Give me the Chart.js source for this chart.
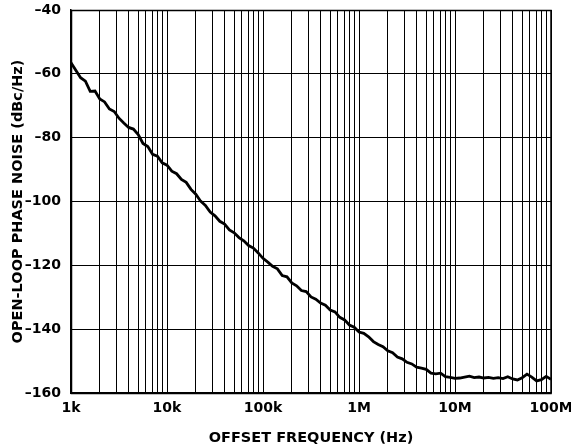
<!DOCTYPE html>
<html>
<head>
<meta charset="utf-8">
<script src="https://cdn.jsdelivr.net/npm/chart.js@4"></script>
<style>
  html, body { margin: 0; padding: 0; background: #fff; }
  #wrap { width: 571px; height: 448px; }
</style>
</head>
<body>
<div id="wrap"><canvas id="c" width="571" height="448"></canvas></div>
<script>
// ---- data ----
const offsetFreqHz = [
  1000,1122,1259,1413,1585,1778,1995,2239,2512,2818,3162,3548,3981,4467,5012,5623,6310,7079,7943,8913,
  10000,11220,12590,14130,15850,17780,19950,22390,25120,28180,31620,35480,39810,44670,50120,56230,63100,70790,79430,89130,
  100000,112200,125900,141300,158500,177800,199500,223900,251200,281800,316200,354800,398100,446700,501200,562300,631000,707900,794300,891300,
  1000000,1122000,1259000,1413000,1585000,1778000,1995000,2239000,2512000,2818000,3162000,3548000,3981000,4467000,5012000,5623000,6310000,7079000,7943000,8913000,
  10000000,11220000,12590000,14130000,15850000,17780000,19950000,22390000,25120000,28180000,31620000,35480000,39810000,44670000,50120000,56230000,63100000,70790000,79430000,89130000,
  100000000
];
const phaseNoiseDbc = [
  -56.5,-58.9,-61.2,-62.3,-65.5,-65.4,-67.9,-68.8,-71.0,-71.8,-73.9,-75.4,-76.8,-77.3,-79.0,-81.8,-82.8,-85.2,-85.8,-87.9,
  -88.6,-90.5,-91.3,-93.1,-94.0,-96.2,-97.7,-99.9,-101.2,-103.3,-104.5,-106.2,-107.1,-108.9,-109.8,-111.3,-112.3,-113.8,-114.6,-116.1,
  -117.8,-119.0,-120.3,-121.1,-123.2,-123.6,-125.5,-126.4,-127.9,-128.2,-129.9,-130.6,-131.8,-132.5,-134.0,-134.6,-136.3,-137.1,-138.7,-139.4,
  -140.9,-141.3,-142.4,-143.9,-144.8,-145.5,-146.8,-147.4,-148.7,-149.3,-150.4,-150.9,-151.9,-152.2,-152.6,-153.8,-154.0,-153.8,-154.9,-155.1,
  -155.4,-155.3,-155.0,-154.7,-155.2,-155.0,-155.3,-155.1,-155.4,-155.2,-155.5,-154.9,-155.6,-155.9,-155.2,-154.1,-155.0,-156.2,-155.8,-154.8,
  -155.7
];
const xTickValues = [1e3, 1e4, 1e5, 1e6, 1e7, 1e8];
const xTickLabels = ['1k', '10k', '100k', '1M', '10M', '100M'];
const minorMultipliers = [2, 3, 4, 5, 6, 7, 8, 9];
const yTickValues = [-160, -140, -120, -100, -80, -60, -40];
const yTickLabels = ['\u2013160', '\u2013140', '\u2013120', '\u2013100', '\u201380', '\u201360', '\u201340'];
const xTitle = 'OFFSET FREQUENCY (Hz)';
const yTitle = 'OPEN-LOOP PHASE NOISE (dBc/Hz)';

// ---- build ----
const points = offsetFreqHz.map((f, i) => ({ x: f, y: phaseNoiseDbc[i] }));
const gridValues = [];
xTickValues.forEach((d, i) => {
  gridValues.push(d);
  if (i < xTickValues.length - 1) minorMultipliers.forEach(m => gridValues.push(d * m));
});
gridValues.sort((a, b) => a - b);

const FONT = 'DejaVu Sans';

const frame = {
  id: 'frame',
  afterDatasetsDraw(chart) {
    const a = chart.chartArea, ctx = chart.ctx;
    ctx.save();
    ctx.strokeStyle = '#000';
    ctx.lineWidth = 1.5;
    ctx.strokeRect(Math.round(a.left) + 0.5, Math.round(a.top) + 0.5,
                   Math.round(a.right - a.left) - 0.5, Math.round(a.bottom - a.top));
    ctx.restore();
  }
};

new Chart(document.getElementById('c'), {
  type: 'line',
  data: {
    datasets: [{
      data: points,
      borderColor: '#000',
      borderWidth: 2.8,
      pointRadius: 0,
      tension: 0,
      fill: false
    }]
  },
  plugins: [frame],
  options: {
    responsive: false,
    animation: false,
    events: [],
    layout: { padding: { top: 10, right: 20, left: 0, bottom: 0 } },
    plugins: { legend: { display: false }, tooltip: { enabled: false } },
    scales: {
      x: {
        type: 'logarithmic',
        min: 1e3,
        max: 1e8,
        afterBuildTicks: (scale) => { scale.ticks = gridValues.map(v => ({ value: v })); },
        afterFit: (scale) => {
          scale.height = 55;
          scale.paddingLeft = 0;
          scale.paddingRight = 0;
        },
        ticks: {
          autoSkip: false,
          maxRotation: 0,
          minRotation: 0,
          padding: 7,
          color: '#000',
          font: { family: FONT, size: 14, weight: 'bold' },
          callback: (v) => {
            const i = xTickValues.indexOf(v);
            return i >= 0 ? xTickLabels[i] : '';
          }
        },
        grid: { color: '#000', lineWidth: 1, drawTicks: false },
        border: { color: '#000', width: 1.5 },
        title: {
          display: true,
          text: xTitle,
          color: '#000',
          font: { family: FONT, size: 14.5, weight: 'bold' },
          padding: { top: 0, bottom: 1 }
        }
      },
      y: {
        type: 'linear',
        min: -160,
        max: -40,
        afterBuildTicks: (scale) => { scale.ticks = yTickValues.map(v => ({ value: v })); },
        afterFit: (scale) => {
          scale.width = 71;
          scale.paddingTop = 0;
          scale.paddingBottom = 0;
        },
        ticks: {
          padding: 10,
          color: '#000',
          font: { family: FONT, size: 14, weight: 'bold' },
          callback: (v) => {
            const i = yTickValues.indexOf(v);
            return i >= 0 ? yTickLabels[i] : '';
          }
        },
        grid: { color: '#000', lineWidth: 1, drawTicks: false },
        border: { color: '#000', width: 1.5 },
        title: {
          display: true,
          text: yTitle,
          color: '#000',
          font: { family: FONT, size: 14.5, weight: 'bold' },
          padding: { top: 10, bottom: 0 }
        }
      }
    }
  }
});
</script>
</body>
</html>
